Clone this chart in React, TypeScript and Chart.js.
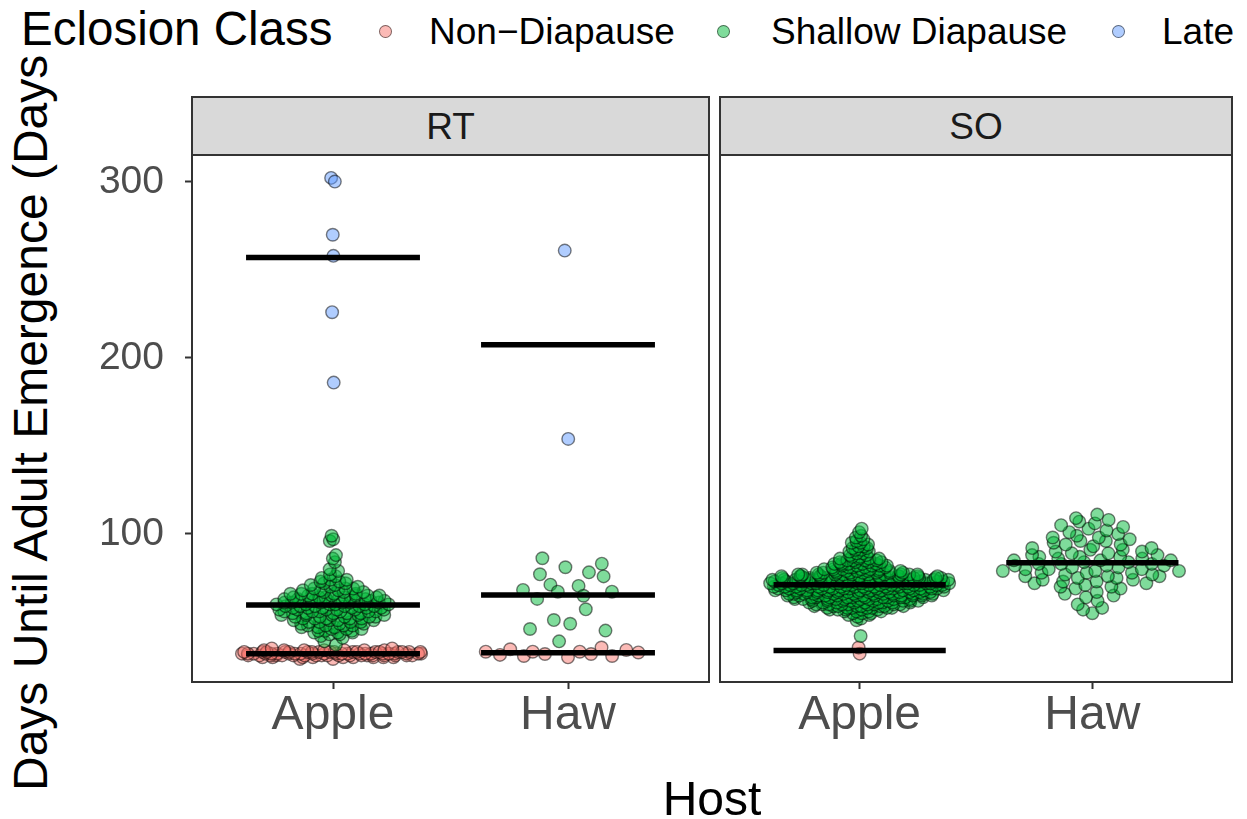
import React, { useEffect, useRef } from "react";
import { Chart, registerables } from "chart.js";

Chart.register(...registerables);

const FONT = '"Liberation Sans", Arial, Helvetica, sans-serif';

const FACETS = ["RT", "SO"];
const HOSTS = ["Apple", "Haw"];
const CLASSES = ["Non\u2212Diapause", "Shallow Diapause", "Late"];
const CLASS_FILLS = ["rgba(248,118,109,0.5)", "rgba(0,186,56,0.5)", "rgba(97,156,255,0.5)"];
const Y_TICKS = [100, 200, 300];
const X_TITLE = "Host";
const Y_TITLE = "Days Until Adult Emergence (Days)";
const LEGEND_TITLE = "Eclosion Class";

// ---- RT / Apple ----
const RT_APPLE_NON_DAYS = [29, 30, 31, 32, 33, 34, 35];
const RT_APPLE_NON_COUNTS = [2, 9, 19, 23, 18, 7, 2];
const RT_APPLE_SHALLOW_DAYS = [37, 39, 41, 42, 43, 44, 45, 46, 47, 48, 49, 50, 51, 52, 53, 54, 55, 56, 57, 58, 59, 60, 61, 62, 63, 64, 65, 66, 67, 68, 69, 70, 71, 72, 73, 74, 75, 76, 77, 79, 80, 84, 86, 88, 96, 97, 99];
const RT_APPLE_SHALLOW_COUNTS = [1, 1, 1, 1, 2, 3, 3, 3, 3, 4, 3, 4, 4, 5, 5, 5, 5, 6, 6, 6, 6, 6, 6, 6, 5, 6, 5, 5, 3, 3, 3, 2, 2, 2, 2, 2, 1, 1, 1, 1, 1, 1, 1, 1, 1, 1, 1];
const RT_APPLE_LATE = [302.3, 300.2, 270, 258, 226, 186];

// ---- RT / Haw ----
const RT_HAW_NON = [33.1, 30.7, 34.5, 30.7, 33.1, 31.8, 29.9, 32.7, 31.8, 35.5, 31.3, 34.1, 33.1];
const RT_HAW_SHALLOW = [86.2, 81.1, 83.1, 77.1, 78.2, 75.9, 71.2, 70.5, 68.2, 67.2, 64.9, 67.2, 63.1, 57.2, 51.1, 49.0, 46.0, 45.1, 39.0];
const RT_HAW_LATE = [261, 154];

// ---- SO / Apple ----
const SO_APPLE_NON = [32, 35.5];
const SO_APPLE_SHALLOW_DAYS = [42, 51, 52, 53, 54, 55, 56, 57, 58, 59, 60, 61, 62, 63, 64, 65, 66, 67, 68, 69, 70, 71, 72, 73, 74, 75, 76, 77, 78, 79, 80, 81, 82, 83, 84, 85, 86, 87, 88, 89, 90, 91, 92, 93, 94, 95, 96, 97, 98, 99, 101, 103];
const SO_APPLE_SHALLOW_COUNTS = [1, 1, 1, 1, 2, 3, 4, 5, 7, 8, 9, 9, 10, 11, 12, 13, 13, 14, 14, 15, 15, 15, 15, 16, 16, 15, 14, 11, 8, 7, 6, 5, 5, 5, 4, 4, 4, 2, 2, 2, 2, 2, 2, 2, 1, 2, 1, 1, 1, 1, 1, 1];
const SO_APPLE_LATE: number[] = [];

// ---- SO / Haw ----
const SO_HAW_NON: number[] = [];
const SO_HAW_SHALLOW_DAYS = [55, 57, 58, 60, 62, 64, 65, 66, 67, 69, 70, 71, 72, 73, 74, 75, 76, 77, 78, 79, 80, 81, 82, 83, 84, 85, 86, 87, 88, 89, 90, 91, 92, 93, 94, 95, 96, 97, 98, 99, 100, 101, 102, 103, 104, 105, 106, 107, 108, 109, 111];
const SO_HAW_SHALLOW_COUNTS = [1, 1, 1, 1, 1, 1, 1, 1, 1, 2, 2, 1, 2, 2, 2, 2, 3, 2, 3, 3, 3, 2, 3, 3, 2, 3, 2, 3, 2, 2, 2, 2, 2, 1, 2, 1, 2, 1, 2, 1, 1, 1, 1, 1, 1, 1, 1, 1, 1, 1, 1];
const SO_HAW_LATE: number[] = [];

const expand = (days: number[], counts: number[]) =>
  days.flatMap((d, i) => Array(counts[i]).fill(d) as number[]);

const PANEL_DATA: number[][][][] = [
  [
    [expand(RT_APPLE_NON_DAYS, RT_APPLE_NON_COUNTS), expand(RT_APPLE_SHALLOW_DAYS, RT_APPLE_SHALLOW_COUNTS), RT_APPLE_LATE],
    [RT_HAW_NON, RT_HAW_SHALLOW, RT_HAW_LATE],
  ],
  [
    [SO_APPLE_NON, expand(SO_APPLE_SHALLOW_DAYS, SO_APPLE_SHALLOW_COUNTS), SO_APPLE_LATE],
    [SO_HAW_NON, expand(SO_HAW_SHALLOW_DAYS, SO_HAW_SHALLOW_COUNTS), SO_HAW_LATE],
  ],
];

// ---- quasirandom (beeswarm-like) layout ----
function vanDerCorput(k: number) {
  let q = 0, b = 0.5, n = k;
  while (n > 0) { q += (n % 2) * b; n = Math.floor(n / 2); b /= 2; }
  return q;
}
function quantile7(s: number[], p: number) {
  const h = (s.length - 1) * p;
  const lo = Math.floor(h), hi = Math.ceil(h);
  return s[lo] + (h - lo) * (s[hi] - s[lo]);
}
function bwNrd0(x: number[]) {
  const n = x.length;
  const mean = x.reduce((a, b) => a + b, 0) / n;
  const sd = Math.sqrt(x.reduce((a, b) => a + (b - mean) ** 2, 0) / (n - 1));
  const s = [...x].sort((a, b) => a - b);
  let lo = Math.min(sd, (quantile7(s, 0.75) - quantile7(s, 0.25)) / 1.34);
  if (!lo) lo = sd || Math.abs(x[0]) || 1;
  return 0.9 * lo * Math.pow(n, -0.2);
}
function quasirandomOffsets(y: number[], width = 0.4, adjust = 0.5): number[] {
  const n = y.length;
  if (n < 2) return y.map(() => 0);
  const bw = bwNrd0(y) * adjust;
  const dens = (v: number) => y.reduce((a, yi) => a + Math.exp(-0.5 * ((v - yi) / bw) ** 2), 0);
  const lo = Math.min(...y) - 3 * bw, hi = Math.max(...y) + 3 * bw;
  let max = 0;
  for (let i = 0; i < 300; i++) max = Math.max(max, dens(lo + ((hi - lo) * i) / 299));
  const d = y.map(dens);
  d.forEach((v) => { if (v > max) max = v; });
  const order = y.map((_, i) => i).sort((a, b) => y[a] - y[b] || a - b);
  const out = new Array(n).fill(0);
  order.forEach((idx, r) => { out[idx] = (vanDerCorput(r + 1) * 2 - 1) * width * (d[idx] / max); });
  return out;
}

const MEAN_HALF_WIDTH = 0.37;

const panelBorder = {
  id: "panelBorder",
  afterDraw(chart: any) {
    const { ctx, chartArea: a } = chart;
    ctx.save();
    ctx.strokeStyle = "#333333";
    ctx.lineWidth = 2;
    ctx.strokeRect(a.left, a.top, a.right - a.left, a.bottom - a.top);
    ctx.restore();
  },
};

// layout constants (page pixels)
const PANEL_TOP = 155;
const PANEL_BOTTOM = 682;
const STRIP_TOP = 96;
const PANELS_X = [[192, 709], [720, 1232]];
const CANVAS_X = [[0, 714], [714, 1247]];
const CANVAS_TOP = 145;
const CANVAS_H = 819 - CANVAS_TOP;

function buildConfig(f: number): any {
  const datasets: any[] = [];
  const pointSets: { x: number; y: number }[][] = CLASSES.map(() => []);
  PANEL_DATA[f].forEach((classes, h) => {
    const all = classes.flat();
    const offs = quasirandomOffsets(all);
    let k = 0;
    classes.forEach((vals, c) => {
      vals.forEach((v) => { pointSets[c].push({ x: h + 1 + offs[k], y: v }); k++; });
      if (vals.length) {
        const m = vals.reduce((a, b) => a + b, 0) / vals.length;
        datasets.push({
          type: "line",
          data: [{ x: h + 1 - MEAN_HALF_WIDTH, y: m }, { x: h + 1 + MEAN_HALF_WIDTH, y: m }],
          borderColor: "#000000",
          borderWidth: 5.5,
          borderCapStyle: "butt",
          pointRadius: 0,
          showLine: true,
          order: 0,
        });
      }
    });
  });
  [2, 1, 0].forEach((c) => {
    datasets.push({
      label: CLASSES[c],
      data: pointSets[c],
      backgroundColor: CLASS_FILLS[c],
      borderColor: "rgba(0,0,0,0.5)",
      borderWidth: 1.4,
      pointRadius: 6.3,
      pointHoverRadius: 6.3,
      order: 1,
    });
  });

  const [cx0, cx1] = CANVAS_X[f];
  const [px0, px1] = PANELS_X[f];
  const tickGrid = { drawOnChartArea: false, drawTicks: true, tickLength: 7, tickColor: "#333333", tickWidth: 2 };

  return {
    type: "scatter",
    data: { datasets },
    options: {
      responsive: false,
      animation: false,
      devicePixelRatio: 1,
      events: [],
      layout: {
        autoPadding: false,
        padding: {
          top: PANEL_TOP - CANVAS_TOP,
          left: f === 0 ? 0 : px0 - cx0,
          right: cx1 - px1,
          bottom: 0,
        },
      },
      plugins: { legend: { display: false }, tooltip: { enabled: false } },
      scales: {
        x: {
          type: "linear",
          min: 0.4,
          max: 2.6,
          afterBuildTicks: (s: any) => { s.ticks = HOSTS.map((_, i) => ({ value: i + 1 })); },
          afterFit: (s: any) => { s.height = 819 - PANEL_BOTTOM; s.paddingLeft = 0; s.paddingRight = 0; },
          ticks: {
            callback: (v: number) => HOSTS[Math.round(v) - 1],
            font: { family: FONT, size: 48 },
            color: "#4D4D4D",
            padding: -2,
            maxRotation: 0,
            autoSkip: false,
          },
          grid: tickGrid,
          border: { display: false },
        },
        y: {
          type: "linear",
          display: f === 0,
          min: 15.9,
          max: 315.3,
          afterBuildTicks: (s: any) => { s.ticks = Y_TICKS.map((v) => ({ value: v })); },
          afterFit: (s: any) => {
            s.width = f === 0 ? px0 - cx0 : 0;
            s.paddingTop = 0;
            s.paddingBottom = 0;
          },
          ticks: {
            font: { family: FONT, size: 39 },
            color: "#4D4D4D",
            padding: 21,
          },
          grid: tickGrid,
          border: { display: false },
        },
      },
    },
    plugins: [panelBorder],
  };
}

export default function App() {
  const ref0 = useRef<HTMLCanvasElement>(null);
  const ref1 = useRef<HTMLCanvasElement>(null);

  useEffect(() => {
    const charts = [ref0, ref1].map((r, f) => new Chart(r.current as HTMLCanvasElement, buildConfig(f)));
    return () => charts.forEach((c) => c.destroy());
  }, []);

  const legendItems = [
    { key: 385, text: 429 },
    { key: 723, text: 771 },
    { key: 1118, text: 1162 },
  ];

  return (
    <div
      style={{
        position: "fixed",
        left: 0,
        top: 0,
        width: 1247,
        height: 819,
        overflow: "hidden",
        background: "#ffffff",
        fontFamily: FONT,
        color: "#000000",
      }}
    >
      {/* y axis title (partly hidden under legend band) */}
      <div style={{ position: "absolute", left: 0, top: 56, width: 120, height: 819 - 56, overflow: "hidden" }}>
        <div
          style={{
            position: "absolute",
            left: 7,
            top: 791 - 56,
            transform: "rotate(-90deg)",
            transformOrigin: "0 0",
            whiteSpace: "nowrap",
            fontSize: 48,
            lineHeight: "48px",
          }}
        >
          {Y_TITLE}
        </div>
      </div>

      {/* canvases */}
      {[ref0, ref1].map((r, f) => (
        <canvas
          key={f}
          ref={r}
          width={CANVAS_X[f][1] - CANVAS_X[f][0]}
          height={CANVAS_H}
          style={{ position: "absolute", left: CANVAS_X[f][0], top: CANVAS_TOP }}
        />
      ))}

      {/* strips */}
      {FACETS.map((name, f) => (
        <div
          key={name}
          style={{
            position: "absolute",
            left: PANELS_X[f][0] - 1,
            top: STRIP_TOP,
            width: PANELS_X[f][1] - PANELS_X[f][0] + 2,
            height: PANEL_TOP - STRIP_TOP + 1,
            boxSizing: "border-box",
            border: "2px solid #333333",
            background: "#D9D9D9",
            color: "#1A1A1A",
            fontSize: 37,
            lineHeight: "52px",
            paddingTop: 3,
            textAlign: "center",
          }}
        >
          {name}
        </div>
      ))}

      {/* x title */}
      <div
        style={{
          position: "absolute",
          left: PANELS_X[0][0],
          width: PANELS_X[1][1] - PANELS_X[0][0],
          top: 775,
          textAlign: "center",
          fontSize: 48,
          lineHeight: "48px",
        }}
      >
        {X_TITLE}
      </div>

      {/* legend */}
      <div style={{ position: "absolute", left: 21, top: 5, fontSize: 47.5, lineHeight: "47.5px", whiteSpace: "nowrap" }}>
        {LEGEND_TITLE}
      </div>
      {CLASSES.map((name, c) => (
        <React.Fragment key={name}>
          <div
            style={{
              position: "absolute",
              left: legendItems[c].key - 6.5,
              top: 31 - 6.5,
              width: 13,
              height: 13,
              boxSizing: "border-box",
              borderRadius: "50%",
              background: CLASS_FILLS[c],
              border: "1px solid rgba(0,0,0,0.5)",
            }}
          />
          <div
            style={{
              position: "absolute",
              left: legendItems[c].text,
              top: 13,
              fontSize: 37,
              lineHeight: "37px",
              whiteSpace: "nowrap",
            }}
          >
            {name}
          </div>
        </React.Fragment>
      ))}
    </div>
  );
}
